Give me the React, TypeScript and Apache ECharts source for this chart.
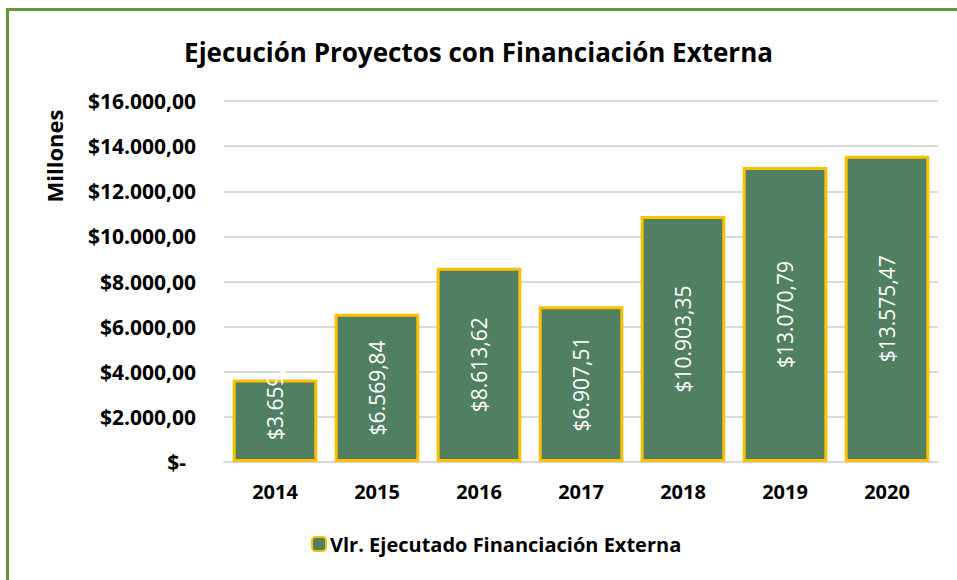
import React, { useEffect, useRef } from "react";
import * as echarts from "echarts";

const TITLE = "Ejecución Proyectos con Financiación Externa";
const SERIES_NAME = "Vlr. Ejecutado Financiación Externa";
const Y_AXIS_NAME = "Millones";
const years = ["2014", "2015", "2016", "2017", "2018", "2019", "2020"];
const values = [3659.48, 6569.84, 8613.62, 6907.51, 10903.35, 13070.79, 13575.47];
const yTicks = { min: 0, max: 16000, interval: 2000 };

const FONT = "'Open Sans', 'Noto Sans', sans-serif";

function fmt(v: number, decimals = 2): string {
  const fixed = v.toFixed(decimals);
  const [intPart, dec] = fixed.split(".");
  const withDots = intPart.replace(/\B(?=(\d{3})+(?!\d))/g, ".");
  return dec ? `${withDots},${dec}` : withDots;
}

export default function App() {
  const ref = useRef<HTMLDivElement>(null);
  useEffect(() => {
    if (!ref.current) return;
    const chart = echarts.init(ref.current, undefined, { renderer: "svg" });
    const data = values.map((v, i) =>
      i === 0
        ? {
            value: v,
            label: {
              position: "insideBottom",
              distance: 22,
              align: "left",
              verticalAlign: "middle",
            },
          }
        : { value: v }
    );
    chart.setOption({
      animation: false,
      backgroundColor: "#ffffff",
      textStyle: { fontFamily: FONT },
      title: {
        text: TITLE,
        left: "center",
        top: 34,
        textStyle: { fontFamily: FONT, fontSize: 26, fontWeight: "bold", color: "#000" },
      },
      graphic: [
        {
          type: "rect",
          shape: { x: 7.5, y: 9.5, width: 1000, height: 1000 },
          style: { fill: "none", stroke: "#62963F", lineWidth: 3 },
          silent: true,
        },
        {
          type: "text",
          x: 54,
          y: 156,
          rotation: Math.PI / 2,
          style: {
            text: Y_AXIS_NAME,
            font: `bold 22px ${FONT}`,
            fill: "#000",
            align: "center",
            verticalAlign: "middle",
          },
        },
      ],
      legend: {
        bottom: 21,
        left: 306,
        itemWidth: 14,
        itemHeight: 14,
        itemGap: 4,
        data: [SERIES_NAME],
        textStyle: { fontFamily: FONT, fontSize: 20, fontWeight: "bold", color: "#000", padding: [0, 0, 0, -1] },
      },
      grid: { left: 224, right: 19, top: 101, bottom: 118, containLabel: false },
      xAxis: {
        type: "category",
        data: years,
        axisLine: { show: true, lineStyle: { color: "#D9D9D9", width: 2 } },
        axisTick: { show: false },
        axisLabel: { fontFamily: FONT, fontSize: 20, fontWeight: "bold", color: "#000", margin: 19 },
      },
      yAxis: {
        type: "value",
        min: yTicks.min,
        max: yTicks.max,
        interval: yTicks.interval,
        axisLine: { show: false },
        axisTick: { show: false },
        splitLine: { lineStyle: { color: "#D9D9D9", width: 2 } },
        axisLabel: {
          fontFamily: FONT,
          fontSize: 21,
          fontWeight: "bold",
          color: "#000",
          margin: 28,
          formatter: (v: number) => (v === 0 ? "{z|$-}" : "$" + fmt(v)),
          rich: {
            z: { fontFamily: FONT, fontSize: 21, fontWeight: "bold", color: "#000", padding: [0, 10, 0, 0] },
          },
        },
      },
      series: [
        {
          name: SERIES_NAME,
          type: "bar",
          data,
          barCategoryGap: "17%",
          itemStyle: { color: "#507F61", borderColor: "#FFC000", borderWidth: 3 },
          label: {
            show: true,
            position: "inside",
            rotate: 90,
            color: "#ffffff",
            fontFamily: FONT,
            fontSize: 21,
            formatter: (p: any) => "$" + fmt(p.value),
          },
        },
      ],
    });
    return () => chart.dispose();
  }, []);
  return (
    <div
      ref={ref}
      style={{ position: "fixed", left: 0, top: 0, width: 957, height: 580 }}
    />
  );
}
